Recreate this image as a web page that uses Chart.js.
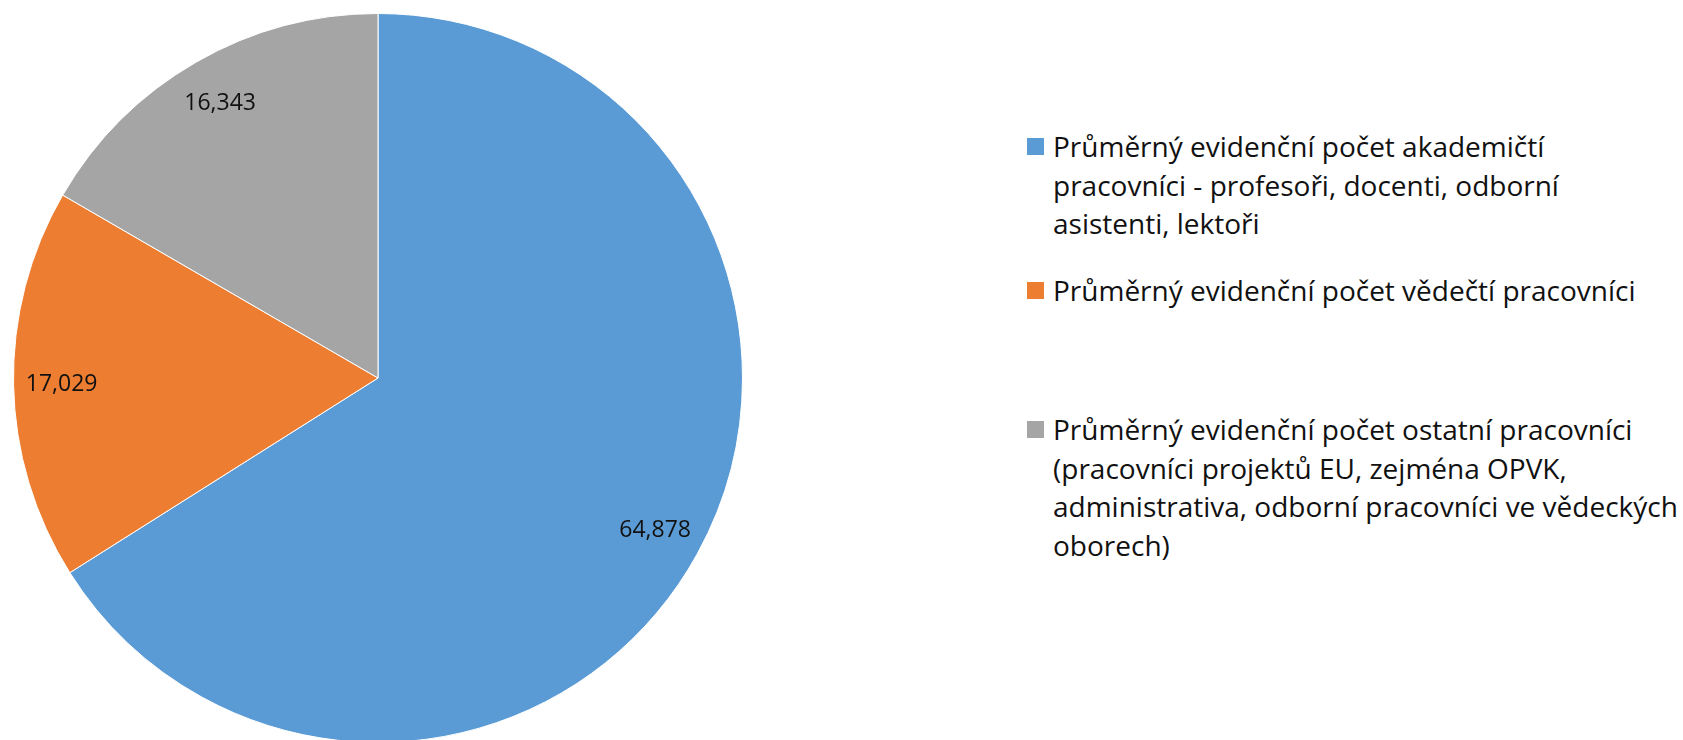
<!DOCTYPE html>
<html>
<head>
  <meta charset="UTF-8">
  <title>Průměrný evidenční počet pracovníků</title>
  <script src="https://cdn.jsdelivr.net/npm/chart.js"></script>
  <style>
    html, body { margin: 0; padding: 0; background: #fff; overflow: hidden; }
    body { width: 1683px; height: 740px; position: relative; font-family: "Open Sans", sans-serif; }
    #pieBox { position: absolute; left: 0; top: 0; width: 756px; height: 756px; }
    #legend { position: absolute; left: 0; top: 0; }
    .item { position: absolute; left: 1027px; white-space: nowrap; }
    .box { position: absolute; left: 0; width: 17px; height: 17px; }
    .txt { position: absolute; left: 26px; font-size: 28px; line-height: 38.6px; color: #111; }
  </style>

  <script>
    // kategorie (víceřádkové popisky legendy)
    const categories = [
      ['Průměrný evidenční počet akademičtí', 'pracovníci - profesoři, docenti, odborní', 'asistenti, lektoři'],
      ['Průměrný evidenční počet vědečtí pracovníci'],
      ['Průměrný evidenční počet ostatní pracovníci', '(pracovníci projektů EU, zejména OPVK,', 'administrativa, odborní pracovníci ve vědeckých', 'oborech)']
    ];
    const values = [64878, 17029, 16343];
    const colors = ['#5B9BD5', '#ED7D31', '#A5A5A5'];

    // horní okraj položek legendy (px)
    const legendTops = [127, 271, 410];

    // popisky hodnot uvnitř výsečí
    const sliceLabels = {
      id: 'sliceLabels',
      afterDatasetsDraw(chart) {
        const ctx = chart.ctx;
        const meta = chart.getDatasetMeta(0);
        ctx.save();
        ctx.font = '23px "Open Sans"';
        ctx.fillStyle = '#111';
        ctx.textAlign = 'center';
        ctx.textBaseline = 'middle';
        meta.data.forEach((arc, i) => {
          const a = (arc.startAngle + arc.endAngle) / 2;
          const r = arc.outerRadius * 0.868;
          const x = arc.x + Math.cos(a) * r;
          const y = arc.y + Math.sin(a) * r;
          ctx.fillText(chart.data.datasets[0].data[i].toLocaleString('en-US'), x, y);
        });
        ctx.restore();
      }
    };

    window.onload = () => {
      const ctx = document.getElementById('pieChart').getContext('2d');
      const chart = new Chart(ctx, {
        type: 'pie',
        data: {
          labels: categories,
          datasets: [{
            data: values,
            backgroundColor: colors,
            borderColor: '#ffffff',
            borderWidth: 1,
            hoverOffset: 0
          }]
        },
        options: {
          responsive: true,
          maintainAspectRatio: false,
          animation: false,
          layout: { padding: 13 },
          plugins: {
            legend: { display: false },
            tooltip: { enabled: false }
          }
        },
        plugins: [sliceLabels]
      });

      // HTML legenda z dat grafu
      const legend = document.getElementById('legend');
      chart.data.labels.forEach((lines, i) => {
        const item = document.createElement('div');
        item.className = 'item';
        item.style.top = legendTops[i] + 'px';
        const box = document.createElement('div');
        box.className = 'box';
        box.style.top = '11px';
        box.style.background = chart.data.datasets[0].backgroundColor[i];
        const txt = document.createElement('div');
        txt.className = 'txt';
        txt.style.top = '0px';
        txt.innerHTML = lines.join('<br>');
        item.appendChild(box);
        item.appendChild(txt);
        legend.appendChild(item);
      });
    };
  </script>
</head>
<body>
  <div id="pieBox"><canvas id="pieChart"></canvas></div>
  <div id="legend"></div>
</body>
</html>
